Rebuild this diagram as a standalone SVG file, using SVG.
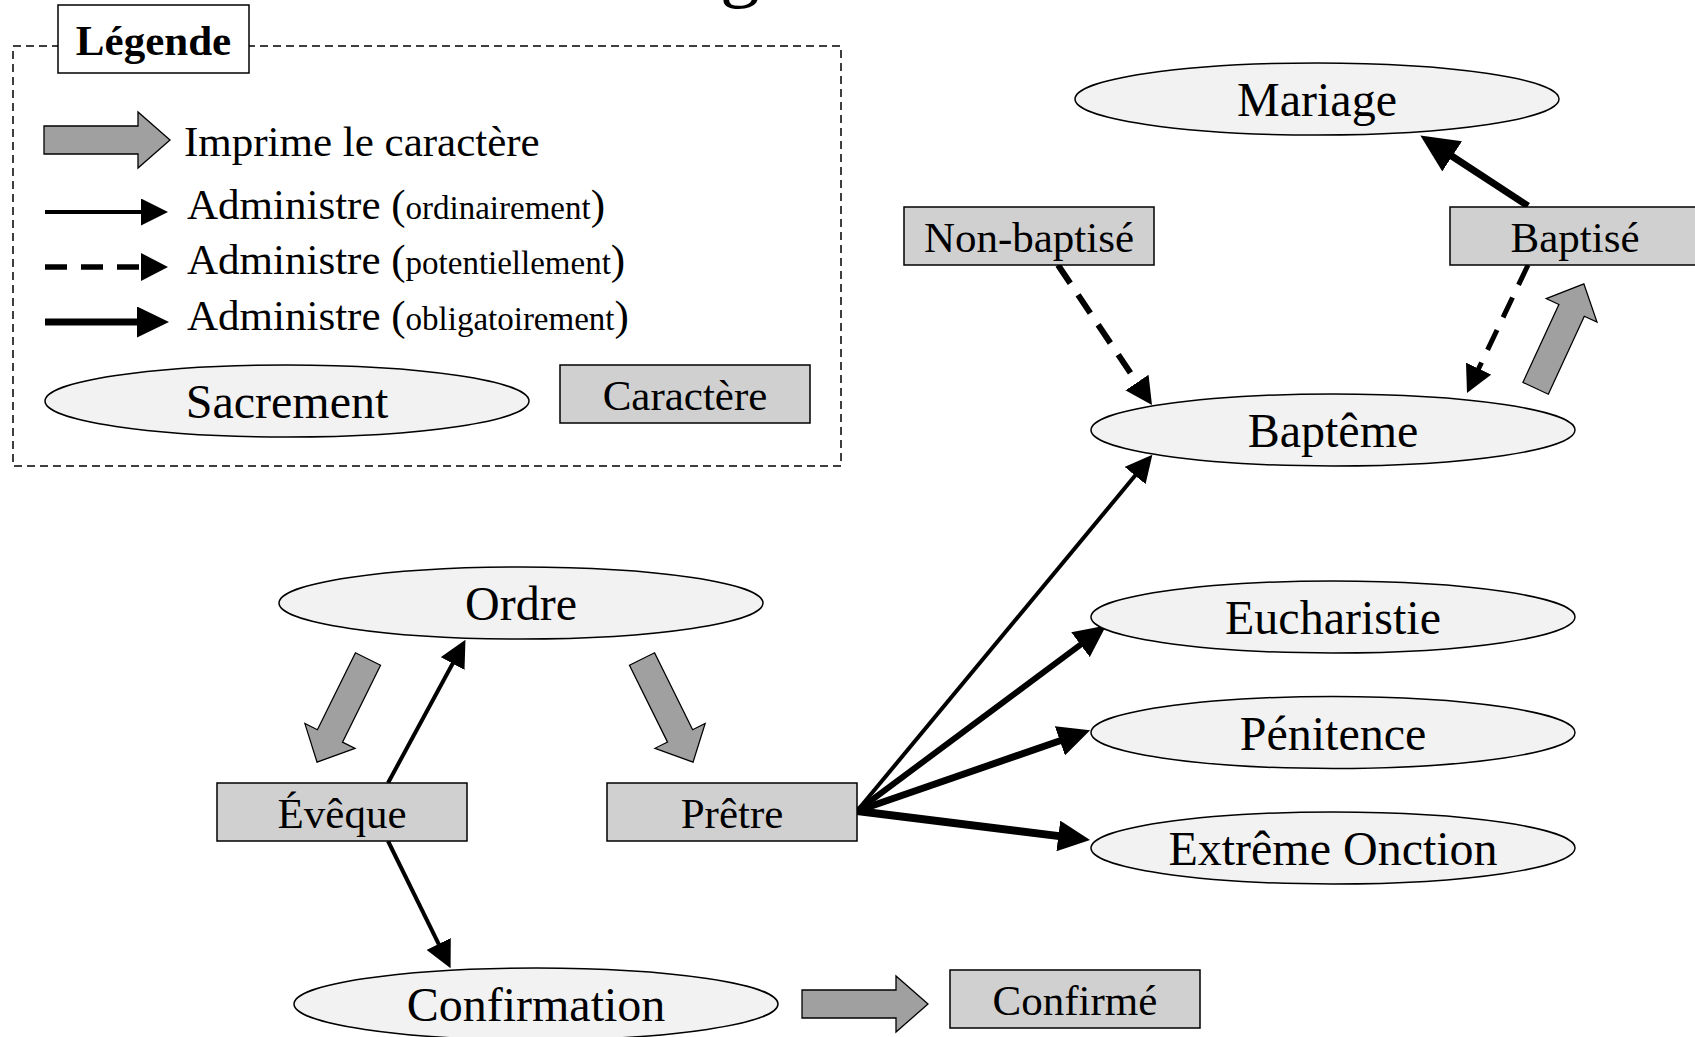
<svg xmlns="http://www.w3.org/2000/svg" width="1695" height="1037" viewBox="0 0 1695 1037">
  <defs>
    <style>
      text { font-family: "Liberation Serif", "Times New Roman", serif; fill: #000; }
      .sac { fill: #f2f2f2; stroke: #000; stroke-width: 1.5; }
      .car { fill: #d0d0d0; stroke: #000; stroke-width: 1.5; }
      .lbl-sac { font-size: 48px; text-anchor: middle; }
      .lbl-car { font-size: 43px; text-anchor: middle; }
      .leg { font-size: 43px; }
      .small { font-size: 33px; }
      .block { fill: #a0a0a0; stroke: #000; stroke-width: 1.3; stroke-linejoin: miter; }
      .ord { fill: none; stroke: #000; stroke-width: 4; marker-end: url(#head-s); }
      .pot { fill: none; stroke: #000; stroke-width: 5.5; stroke-dasharray: 22 14; marker-end: url(#head-d); }
      .obl { fill: none; stroke: #000; stroke-width: 7; marker-end: url(#head-m); }
    </style>
    <!-- arrowheads sized in user units, attached at the line end -->
    <marker id="head-s" markerUnits="userSpaceOnUse" viewBox="0 0 27 27" markerWidth="27" markerHeight="27" refX="1" refY="13.5" orient="auto">
      <path d="M0,0 L27,13.5 L0,27 Z" fill="#000"/>
    </marker>
    <marker id="head-d" markerUnits="userSpaceOnUse" viewBox="0 0 27 28" markerWidth="27" markerHeight="28" refX="1" refY="14" orient="auto">
      <path d="M0,0 L27,14 L0,28 Z" fill="#000"/>
    </marker>
    <marker id="head-m" markerUnits="userSpaceOnUse" viewBox="0 0 32 31" markerWidth="32" markerHeight="31" refX="1" refY="15.5" orient="auto">
      <path d="M0,0 L32,15.5 L0,31 Z" fill="#000"/>
    </marker>
    <marker id="head-l" markerUnits="userSpaceOnUse" viewBox="0 0 38 36" markerWidth="38" markerHeight="36" refX="1" refY="18" orient="auto">
      <path d="M0,0 L38,18 L0,36 Z" fill="#000"/>
    </marker>
    <!-- grey block arrow pointing along +x, tail at origin -->
    <polygon id="blk" points="0,-14 94,-14 94,-28 126,0 94,28 94,14 0,14"/>
  </defs>

  <rect width="1695" height="1037" fill="#fff"/>

  <!-- title (runs off the top edge) -->
  <text x="720" y="-8" font-size="80">g</text>

  <!-- legend -->
  <g id="legend">
    <rect x="13" y="46" width="828" height="420" fill="none" stroke="#000" stroke-width="1.5" stroke-dasharray="8 5"/>
    <rect x="58" y="5" width="191" height="68" fill="#fff" stroke="#000" stroke-width="1.5"/>
    <text x="153.5" y="55" font-size="43" font-weight="bold" text-anchor="middle">Légende</text>

    <use href="#blk" class="block" transform="translate(44,140)"/>
    <text class="leg" x="184" y="156">Imprime le caractère</text>

    <path d="M45,212 H142" style="fill:none;stroke:#000;stroke-width:4;marker-end:url(#head-s)"/>
    <text class="leg" x="187" y="219">Administre (<tspan class="small">ordinairement</tspan>)</text>

    <path d="M45,267 H142" style="fill:none;stroke:#000;stroke-width:5.5;stroke-dasharray:22 14;marker-end:url(#head-d)"/>
    <text class="leg" x="187" y="274">Administre (<tspan class="small">potentiellement</tspan>)</text>

    <path d="M45,322 H138" style="fill:none;stroke:#000;stroke-width:7;marker-end:url(#head-m)"/>
    <text class="leg" x="187" y="330">Administre (<tspan class="small">obligatoirement</tspan>)</text>

    <ellipse class="sac" cx="287" cy="401" rx="242" ry="36"/>
    <text class="lbl-sac" x="287" y="418">Sacrement</text>
    <rect class="car" x="560" y="365" width="250" height="58"/>
    <text class="lbl-car" x="685" y="410">Caractère</text>
  </g>

  <!-- connectors -->
  <g id="connectors">
    <!-- character-imprinting block arrows -->
    <use href="#blk" class="block" transform="translate(368,659) rotate(116.3) scale(0.913,1)"/>
    <use href="#blk" class="block" transform="translate(642,659) rotate(63.66) scale(0.913,1)"/>
    <use href="#blk" class="block" transform="translate(1535.6,388.3) rotate(-65.2) scale(0.913,1)"/>
    <use href="#blk" class="block" transform="translate(802,1004)"/>

    <!-- administers -->
    <path class="ord" d="M388,783 L453.1,662.7"/>
    <path class="ord" d="M388,841 L439.1,944.8"/>
    <path class="pot" d="M1058,265 L1137.5,383.4" style="stroke-width:6"/>
    <path class="pot" d="M1528,265 L1478.2,369.5" style="stroke-width:5"/>
    <path d="M1528,206 L1451.3,155.8" fill="none" stroke="#000" stroke-width="7" marker-end="url(#head-l)"/>
    <path class="ord" d="M857,811 L1135.8,474.8"/>
    <path class="obl" d="M857,811 L1081.3,644.1" style="stroke-width:6"/>
    <path class="obl" d="M857,811 L1060.8,740.5"/>
    <path class="obl" d="M857,811 L1059.3,836.1" style="stroke-width:8"/>
  </g>

  <!-- sacraments -->
  <g id="mariage">
    <ellipse class="sac" cx="1317" cy="99" rx="242" ry="36"/>
    <text class="lbl-sac" x="1317" y="116">Mariage</text>
  </g>
  <g id="bapteme">
    <ellipse class="sac" cx="1333" cy="430" rx="242" ry="36"/>
    <text class="lbl-sac" x="1333" y="447">Baptême</text>
  </g>
  <g id="eucharistie">
    <ellipse class="sac" cx="1333" cy="617" rx="242" ry="36"/>
    <text class="lbl-sac" x="1333" y="634">Eucharistie</text>
  </g>
  <g id="penitence">
    <ellipse class="sac" cx="1333" cy="732.5" rx="242" ry="36"/>
    <text class="lbl-sac" x="1333" y="749.5">Pénitence</text>
  </g>
  <g id="extreme-onction">
    <ellipse class="sac" cx="1333" cy="848" rx="242" ry="36"/>
    <text class="lbl-sac" x="1333" y="865">Extrême Onction</text>
  </g>
  <g id="ordre">
    <ellipse class="sac" cx="521" cy="603" rx="242" ry="36"/>
    <text class="lbl-sac" x="521" y="620">Ordre</text>
  </g>
  <g id="confirmation">
    <ellipse class="sac" cx="536" cy="1004" rx="242" ry="36"/>
    <text class="lbl-sac" x="536" y="1021">Confirmation</text>
  </g>

  <!-- characters -->
  <g id="non-baptise">
    <rect class="car" x="904" y="207" width="250" height="58"/>
    <text class="lbl-car" x="1029" y="252">Non-baptisé</text>
  </g>
  <g id="baptise">
    <rect class="car" x="1450" y="207" width="250" height="58"/>
    <text class="lbl-car" x="1575" y="252">Baptisé</text>
  </g>
  <g id="eveque">
    <rect class="car" x="217" y="783" width="250" height="58"/>
    <text class="lbl-car" x="342" y="828">Évêque</text>
  </g>
  <g id="pretre">
    <rect class="car" x="607" y="783" width="250" height="58"/>
    <text class="lbl-car" x="732" y="828">Prêtre</text>
  </g>
  <g id="confirme">
    <rect class="car" x="950" y="970" width="250" height="58"/>
    <text class="lbl-car" x="1075" y="1015">Confirmé</text>
  </g>
</svg>
